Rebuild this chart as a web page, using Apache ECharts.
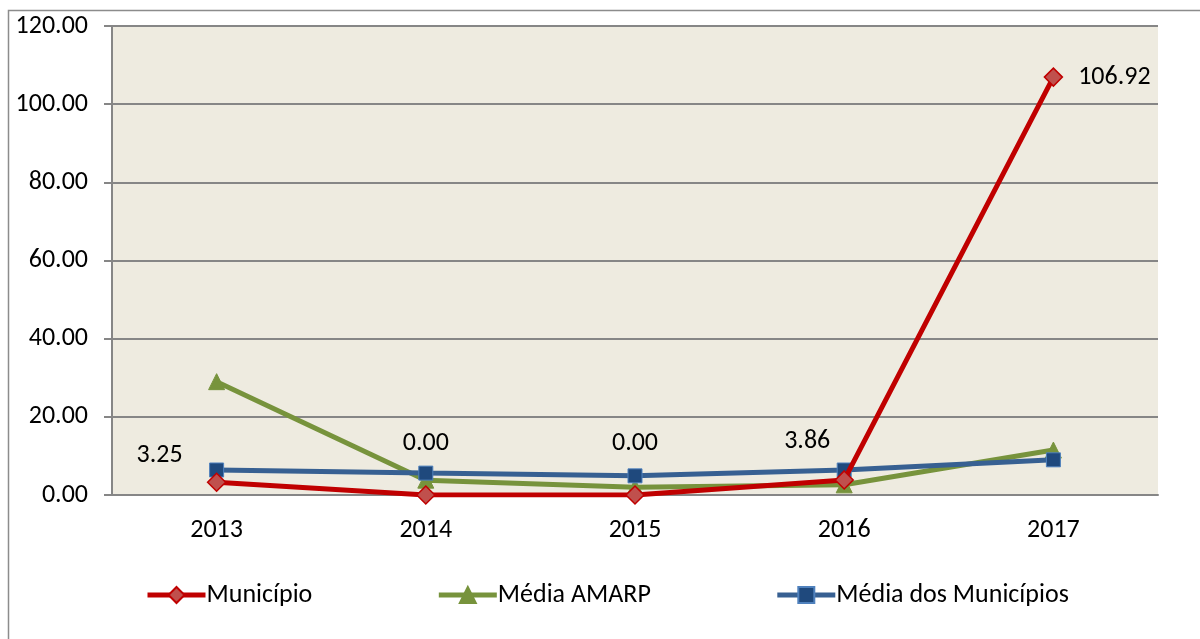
<!DOCTYPE html>
<html>
<head>
<meta charset="utf-8">
<script src="https://cdn.jsdelivr.net/npm/echarts@6/dist/echarts.min.js"></script>
<style>
html, body { margin: 0; padding: 0; background: #fff; }
#chart { width: 1200px; height: 639px; }
</style>
</head>
<body>
<div id="chart"></div>
<script>
const anos = ['2013', '2014', '2015', '2016', '2017'];
const municipio = [3.25, 0, 0, 3.86, 106.92];
const mediaAmarp = [29.0, 3.8, 2.0, 2.6, 11.5];
const mediaMunicipios = [6.4, 5.6, 4.9, 6.4, 9.0];
const yTicks = [0, 20, 40, 60, 80, 100, 120];

const fonte = 'Carlito, "Liberation Sans Narrow", "Noto Sans", sans-serif';

// posição dos rótulos da série Município (imita o Excel)
const rotulos = [
    { position: 'top', offset: [-57, 1] },
    { position: 'top', offset: [0, -24] },
    { position: 'top', offset: [0, -24] },
    { position: 'top', offset: [-37, -11] },
    { position: 'right', offset: [10, 0] }
];

let myChart = echarts.init(document.getElementById('chart'));

let option = {
    animation: false,
    graphic: [{
        type: 'rect',
        shape: { x: 8.5, y: 10.5, width: 1300, height: 700 },
        style: { fill: 'none', stroke: '#8c8c8c', lineWidth: 1.5 },
        z: -10
    }],
    grid: {
        left: 112, right: 42, top: 26, bottom: 144,
        show: true,
        backgroundColor: '#eeebe0',
        borderWidth: 0
    },
    xAxis: {
        type: 'category',
        data: anos,
        boundaryGap: true,
        axisLine: { lineStyle: { color: '#868686', width: 2 } },
        axisTick: { show: false },
        axisLabel: { color: '#000', fontSize: 26, fontFamily: fonte, margin: 22 }
    },
    yAxis: {
        type: 'value',
        min: yTicks[0],
        max: yTicks[yTicks.length - 1],
        interval: 20,
        axisLine: { show: true, lineStyle: { color: '#868686', width: 2 } },
        axisTick: { show: true, length: 8, lineStyle: { color: '#868686', width: 2 } },
        splitLine: { lineStyle: { color: '#868686', width: 2 } },
        axisLabel: {
            color: '#000', fontSize: 26, fontFamily: fonte, margin: 24,
            formatter: v => v.toFixed(2)
        }
    },
    legend: {
        bottom: 26,
        left: 140,
        itemGap: 124,
        itemWidth: 58,
        itemHeight: 20,
        lineStyle: { width: 5 },
        textStyle: { color: '#000', fontSize: 26, fontFamily: fonte, padding: [0, 0, 0, -4] },
        data: ['Município', 'Média AMARP', 'Média dos Municípios']
    },
    series: [
        {
            name: 'Média AMARP',
            type: 'line',
            data: mediaAmarp,
            symbol: 'triangle',
            symbolSize: 16,
            lineStyle: { color: '#77933c', width: 5 },
            itemStyle: { color: '#77933c', borderColor: '#77933c', borderWidth: 1 },
            z: 2
        },
        {
            name: 'Média dos Municípios',
            type: 'line',
            data: mediaMunicipios,
            symbol: 'rect',
            symbolSize: 14,
            lineStyle: { color: '#376092', width: 5 },
            itemStyle: { color: '#1f497d', borderColor: '#4f81bd', borderWidth: 1 },
            z: 3
        },
        {
            name: 'Município',
            type: 'line',
            data: municipio.map((v, i) => ({
                value: v,
                label: { show: true, position: rotulos[i].position, offset: rotulos[i].offset }
            })),
            symbol: 'diamond',
            symbolSize: 18,
            lineStyle: { color: '#c00000', width: 5 },
            itemStyle: { color: '#c0504d', borderColor: '#c00000', borderWidth: 1.5 },
            label: {
                color: '#000', fontSize: 26, fontFamily: fonte,
                formatter: p => p.value.toFixed(2)
            },
            z: 4
        }
    ]
};

option && myChart.setOption(option);
</script>
</body>
</html>
